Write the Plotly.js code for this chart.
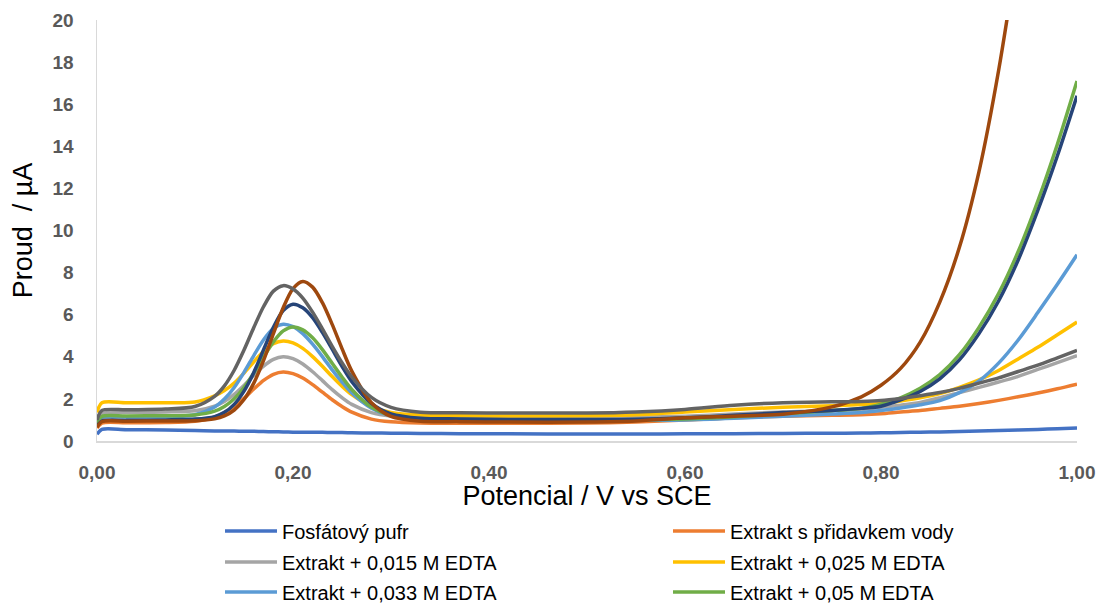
<!DOCTYPE html>
<html>
<head>
<meta charset="utf-8">
<script src="https://cdn.plot.ly/plotly-3.0.1.min.js"></script>
<style>html,body{margin:0;padding:0;background:#fff;}#chart{width:1101px;height:605px;}</style>
</head>
<body>
<div id="chart"></div>
<script>
// Potential (V vs SCE)
const potencial = [0, 0.005, 0.03, 0.07, 0.10, 0.12, 0.13, 0.14, 0.15, 0.16, 0.17, 0.18, 0.19, 0.20, 0.21, 0.22, 0.23, 0.24, 0.25, 0.26, 0.28, 0.30, 0.33, 0.37, 0.42, 0.50, 0.55, 0.60, 0.65, 0.70, 0.75, 0.78, 0.80, 0.82, 0.84, 0.86, 0.88, 0.90, 0.92, 0.94, 0.96, 0.98, 1.00];

// Current (µA) per series
const fosfatovyPufr = [0.32, 0.55, 0.54, 0.52, 0.50, 0.48, 0.47, 0.47, 0.46, 0.46, 0.45, 0.44, 0.43, 0.42, 0.42, 0.41, 0.41, 0.40, 0.40, 0.39, 0.38, 0.37, 0.36, 0.35, 0.34, 0.33, 0.33, 0.34, 0.35, 0.36, 0.37, 0.38, 0.39, 0.40, 0.42, 0.43, 0.45, 0.47, 0.50, 0.52, 0.55, 0.58, 0.62];
const extraktVoda = [0.62, 0.85, 0.87, 0.88, 0.94, 1.13, 1.34, 1.64, 2.03, 2.47, 2.88, 3.17, 3.28, 3.20, 2.99, 2.68, 2.32, 1.96, 1.64, 1.37, 1.04, 0.91, 0.85, 0.84, 0.84, 0.85, 0.90, 1.00, 1.10, 1.18, 1.22, 1.25, 1.30, 1.38, 1.45, 1.55, 1.65, 1.78, 1.93, 2.10, 2.28, 2.48, 2.70];
const edta015 = [0.95, 1.30, 1.36, 1.38, 1.44, 1.66, 1.88, 2.21, 2.64, 3.11, 3.56, 3.88, 4.00, 3.91, 3.66, 3.29, 2.87, 2.44, 2.06, 1.74, 1.35, 1.19, 1.13, 1.12, 1.12, 1.12, 1.13, 1.18, 1.28, 1.38, 1.45, 1.50, 1.60, 1.70, 1.83, 2.05, 2.30, 2.55, 2.80, 3.07, 3.40, 3.72, 4.05];
const edta025 = [1.35, 1.82, 1.82, 1.82, 1.85, 2.15, 2.40, 2.75, 3.23, 3.76, 4.26, 4.62, 4.75, 4.66, 4.40, 4.01, 3.55, 3.06, 2.60, 2.20, 1.64, 1.36, 1.23, 1.20, 1.19, 1.20, 1.25, 1.38, 1.50, 1.60, 1.68, 1.73, 1.78, 1.90, 2.05, 2.25, 2.55, 2.90, 3.35, 3.90, 4.45, 5.05, 5.65];
const edta033 = [0.80, 1.12, 1.14, 1.15, 1.25, 1.61, 1.99, 2.54, 3.26, 4.06, 4.81, 5.35, 5.55, 5.43, 5.10, 4.60, 4.01, 3.38, 2.80, 2.28, 1.56, 1.20, 1.03, 1.00, 0.98, 0.98, 0.98, 1.00, 1.08, 1.18, 1.28, 1.35, 1.45, 1.57, 1.72, 1.92, 2.30, 2.85, 3.70, 4.80, 6.10, 7.45, 8.85];
const edta05 = [0.85, 1.17, 1.19, 1.20, 1.24, 1.42, 1.64, 2.01, 2.54, 3.23, 3.99, 4.71, 5.23, 5.42, 5.28, 4.90, 4.34, 3.69, 3.04, 2.45, 1.61, 1.21, 1.04, 1.02, 1.00, 1.00, 1.00, 1.05, 1.15, 1.30, 1.45, 1.55, 1.75, 2.05, 2.50, 3.15, 4.10, 5.40, 7.00, 9.00, 11.40, 14.10, 17.10];
const serie7 = [0.70, 0.95, 0.98, 1.00, 1.04, 1.16, 1.36, 1.74, 2.37, 3.26, 4.34, 5.40, 6.20, 6.50, 6.33, 5.86, 5.16, 4.36, 3.55, 2.82, 1.79, 1.29, 1.08, 1.05, 1.02, 1.02, 1.03, 1.10, 1.22, 1.35, 1.45, 1.55, 1.65, 1.95, 2.35, 2.95, 3.85, 5.10, 6.65, 8.60, 10.95, 13.55, 16.40];
const serie8 = [0.65, 0.92, 0.94, 0.95, 0.96, 1.05, 1.19, 1.47, 1.97, 2.75, 3.83, 5.10, 6.33, 7.24, 7.58, 7.31, 6.57, 5.54, 4.39, 3.32, 1.82, 1.17, 0.94, 0.92, 0.90, 0.90, 0.95, 1.10, 1.18, 1.27, 1.62, 2.10, 2.65, 3.45, 4.70, 6.60, 9.20, 12.80, 17.60, 23.50, 30.00, 38.00, 47.00];
const serie9 = [1.00, 1.45, 1.48, 1.52, 1.64, 2.12, 2.62, 3.36, 4.32, 5.39, 6.39, 7.12, 7.38, 7.22, 6.79, 6.12, 5.33, 4.50, 3.72, 3.04, 2.07, 1.60, 1.37, 1.34, 1.33, 1.33, 1.38, 1.50, 1.70, 1.82, 1.86, 1.88, 1.92, 2.02, 2.15, 2.30, 2.50, 2.75, 3.00, 3.30, 3.60, 3.95, 4.30];

const seriesNames = ["Fosfátový pufr", "Extrakt s přidavkem vody", "Extrakt + 0,015 M EDTA", "Extrakt + 0,025 M EDTA", "Extrakt + 0,033 M EDTA", "Extrakt + 0,05 M EDTA", "Série 7", "Série 8", "Série 9"];
const seriesValues = [fosfatovyPufr, extraktVoda, edta015, edta025, edta033, edta05, serie7, serie8, serie9];
const seriesColors = ["#4472C4", "#ED7D31", "#A5A5A5", "#FFC000", "#5B9BD5", "#70AD47", "#264478", "#9E480E", "#636363"];
const legendIds = ["legend", "legend", "legend2", "legend2", "legend3", "legend3", null, null, null];

const traces = seriesValues.map((vals, i) => {
  const t = {
    x: potencial, y: vals, name: seriesNames[i], type: "scatter", mode: "lines",
    line: {color: seriesColors[i], width: 3.5, shape: "spline", smoothing: 0.8},
    hoverinfo: "skip"
  };
  if (legendIds[i]) { t.legend = legendIds[i]; t.showlegend = true; } else { t.showlegend = false; }
  return t;
});

const tickFont = {family: "Liberation Sans, Arial, sans-serif", size: 19, color: "#595959", weight: "bold"};
const legendBase = {
  orientation: "h", xref: "container", yref: "container", xanchor: "left", yanchor: "middle",
  x: 220 / 1101, entrywidth: 381, entrywidthmode: "pixels", itemwidth: 52,
  font: {family: "Liberation Sans, Arial, sans-serif", size: 20, color: "#000000"},
  bgcolor: "rgba(0,0,0,0)", borderwidth: 0, itemclick: false, itemdoubleclick: false
};

const layout = {
  width: 1101, height: 605,
  margin: {l: 97, r: 24, t: 20, b: 164},
  paper_bgcolor: "#ffffff", plot_bgcolor: "#ffffff",
  separators: ", ",
  font: {family: "Liberation Sans, Arial, sans-serif"},
  xaxis: {
    range: [0, 1], tick0: 0, dtick: 0.2, tickformat: ".2f",
    showgrid: false, zeroline: false, showline: true, linecolor: "#D9D9D9", linewidth: 1.5,
    ticks: "", tickfont: tickFont, ticklabelstandoff: 14, automargin: false,
    title: {text: "Potencial / V vs SCE", font: {size: 27, color: "#000000"}, standoff: 12}
  },
  yaxis: {
    range: [0, 20], tick0: 0, dtick: 2, tickformat: "d",
    showgrid: false, zeroline: false, showline: true, linecolor: "#D9D9D9", linewidth: 1.5,
    ticks: "", tickfont: tickFont, ticklabelstandoff: 18, automargin: false,
    title: {text: "Proud  / µA", font: {size: 27, color: "#000000"}, standoff: 12}
  },
  legend: Object.assign({}, legendBase, {y: 1 - 531 / 605}),
  legend2: Object.assign({}, legendBase, {y: 1 - 562 / 605}),
  legend3: Object.assign({}, legendBase, {y: 1 - 592 / 605}),
  showlegend: true
};

Plotly.newPlot("chart", traces, layout, {staticPlot: true, displayModeBar: false});
</script>
</body>
</html>
